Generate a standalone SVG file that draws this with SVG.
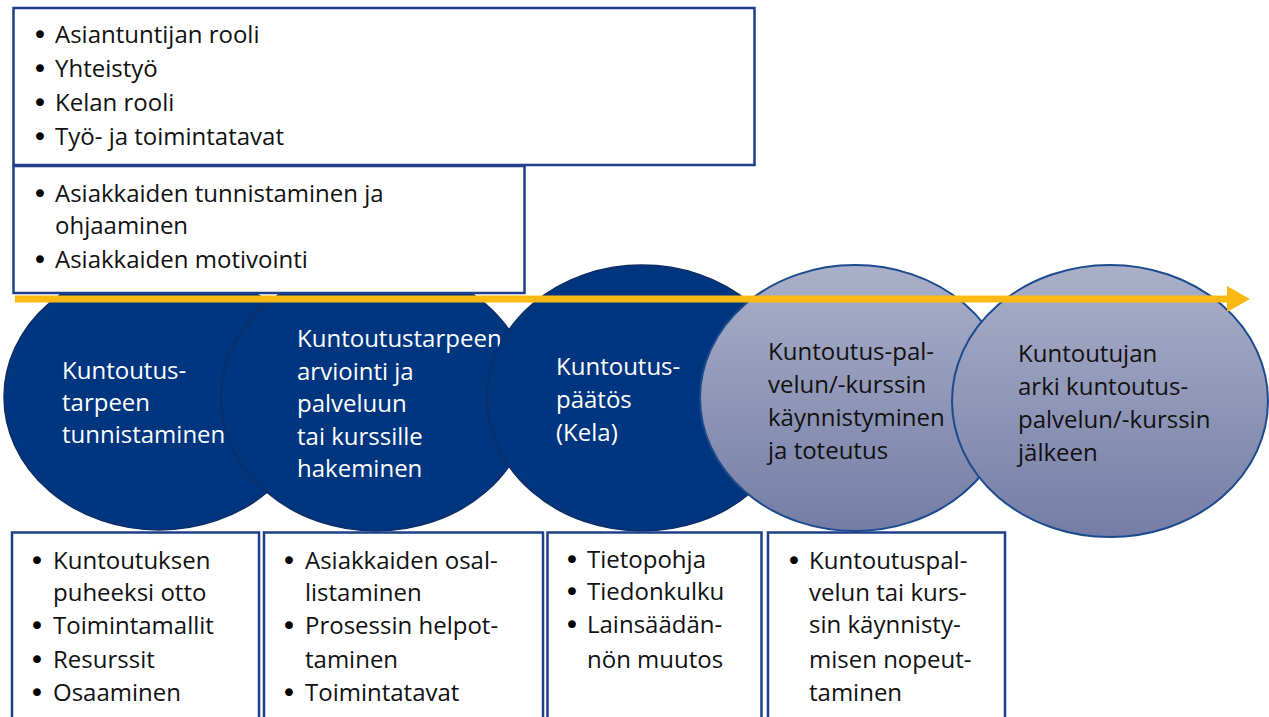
<svg xmlns="http://www.w3.org/2000/svg" width="1269" height="717" viewBox="0 0 1269 717">
<defs>
<linearGradient id="gr" x1="0" y1="0" x2="0" y2="1">
<stop offset="0" stop-color="#ABB0C9"/>
<stop offset="1" stop-color="#747DA5"/>
</linearGradient>
<marker id="ah" viewBox="0 0 24 26" refX="1" refY="13" markerWidth="24" markerHeight="26" markerUnits="userSpaceOnUse" orient="auto">
<path d="M0,0 L23,13 L0,26 Z" fill="#FDB913"/>
</marker>
<style>
text{font-family:"Open Sans","Noto Sans","Liberation Sans",sans-serif;font-size:24px;}
text.bu{font-family:"DejaVu Sans",sans-serif;font-size:27px;fill:#000;}
.box{fill:#fff;stroke:#1F3F8C;stroke-width:2.5;}
.dark{fill:#003580;stroke:#0E2D62;stroke-width:1.5;}
.light{fill:url(#gr);stroke:#1B4A8E;stroke-width:2;}
.wt{fill:#fff;}
.bt{fill:#111;}
</style>
</defs>
<g id="circle1"><ellipse class="dark" cx="159" cy="397" rx="155" ry="133"/>
<text class="wt"><tspan x="62" y="379">Kuntoutus-</tspan><tspan x="62" y="411">tarpeen</tspan><tspan x="62" y="443">tunnistaminen</tspan></text></g>
<g id="circle2"><ellipse class="dark" cx="376" cy="398" rx="155" ry="133"/>
<text class="wt"><tspan x="297" y="347">Kuntoutustarpeen</tspan><tspan x="297" y="380">arviointi ja</tspan><tspan x="297" y="412">palveluun</tspan><tspan x="297" y="445">tai kurssille</tspan><tspan x="297" y="477">hakeminen</tspan></text></g>
<g id="circle3"><ellipse class="dark" cx="642" cy="398" rx="155" ry="133"/>
<text class="wt"><tspan x="556" y="375">Kuntoutus-</tspan><tspan x="556" y="408">päätös</tspan><tspan x="556" y="441">(Kela)</tspan></text></g>
<g id="circle4"><ellipse class="light" cx="855" cy="398" rx="155" ry="133"/>
<text class="bt"><tspan x="768" y="360">Kuntoutus-pal-</tspan><tspan x="768" y="393">velun/-kurssin</tspan><tspan x="768" y="426">käynnistyminen</tspan><tspan x="768" y="459">ja toteutus</tspan></text></g>
<g id="circle5"><ellipse class="light" cx="1110" cy="401" rx="158" ry="136"/>
<text class="bt"><tspan x="1018" y="362">Kuntoutujan</tspan><tspan x="1018" y="395">arki kuntoutus-</tspan><tspan x="1018" y="428">palvelun/-kurssin</tspan><tspan x="1018" y="461">jälkeen</tspan></text></g>
<g id="topbox1"><rect class="box" x="13.5" y="8" width="741" height="157"/>
<text class="bu"><tspan x="32" y="44">•</tspan><tspan x="32" y="78">•</tspan><tspan x="32" y="112">•</tspan><tspan x="32" y="146">•</tspan></text>
<text class="bt"><tspan x="55" y="43">Asiantuntijan rooli</tspan><tspan x="55" y="77">Yhteistyö</tspan><tspan x="55" y="111">Kelan rooli</tspan><tspan x="55" y="145">Työ- ja toimintatavat</tspan></text></g>
<g id="topbox2"><rect class="box" x="13.5" y="166" width="511" height="127"/>
<text class="bu"><tspan x="32" y="203">•</tspan><tspan x="32" y="269">•</tspan></text>
<text class="bt"><tspan x="55" y="202">Asiakkaiden tunnistaminen ja</tspan><tspan x="55" y="234">ohjaaminen</tspan><tspan x="55" y="268">Asiakkaiden motivointi</tspan></text></g>
<g id="connectors"><line x1="15" y1="299" x2="1228" y2="299" stroke="#FDB913" stroke-width="7" marker-end="url(#ah)"/></g>
<g id="bottombox1"><rect class="box" x="12" y="532.5" width="247" height="200"/>
<text class="bu"><tspan x="29" y="570">•</tspan><tspan x="29" y="635">•</tspan><tspan x="29" y="669">•</tspan><tspan x="29" y="702">•</tspan></text>
<text class="bt"><tspan x="53" y="569">Kuntoutuksen</tspan><tspan x="53" y="601">puheeksi otto</tspan><tspan x="53" y="634">Toimintamallit</tspan><tspan x="53" y="668">Resurssit</tspan><tspan x="53" y="701">Osaaminen</tspan></text></g>
<g id="bottombox2"><rect class="box" x="264" y="532.5" width="279" height="200"/>
<text class="bu"><tspan x="281" y="570">•</tspan><tspan x="281" y="635">•</tspan><tspan x="281" y="702">•</tspan></text>
<text class="bt"><tspan x="305" y="569">Asiakkaiden osal-</tspan><tspan x="305" y="601">listaminen</tspan><tspan x="305" y="634">Prosessin helpot-</tspan><tspan x="305" y="668">taminen</tspan><tspan x="305" y="701">Toimintatavat</tspan></text></g>
<g id="bottombox3"><rect class="box" x="547.5" y="532.5" width="214" height="200"/>
<text class="bu"><tspan x="564" y="569">•</tspan><tspan x="564" y="601">•</tspan><tspan x="564" y="634">•</tspan></text>
<text class="bt"><tspan x="587" y="568">Tietopohja</tspan><tspan x="587" y="600">Tiedonkulku</tspan><tspan x="587" y="633">Lainsäädän-</tspan><tspan x="587" y="668">nön muutos</tspan></text></g>
<g id="bottombox4"><rect class="box" x="768" y="532.5" width="237" height="200"/>
<text class="bu"><tspan x="786" y="570">•</tspan></text>
<text class="bt"><tspan x="809" y="569">Kuntoutuspal-</tspan><tspan x="809" y="601">velun tai kurs-</tspan><tspan x="809" y="633">sin käynnisty-</tspan><tspan x="809" y="668">misen nopeut-</tspan><tspan x="809" y="701">taminen</tspan></text></g>
</svg>
